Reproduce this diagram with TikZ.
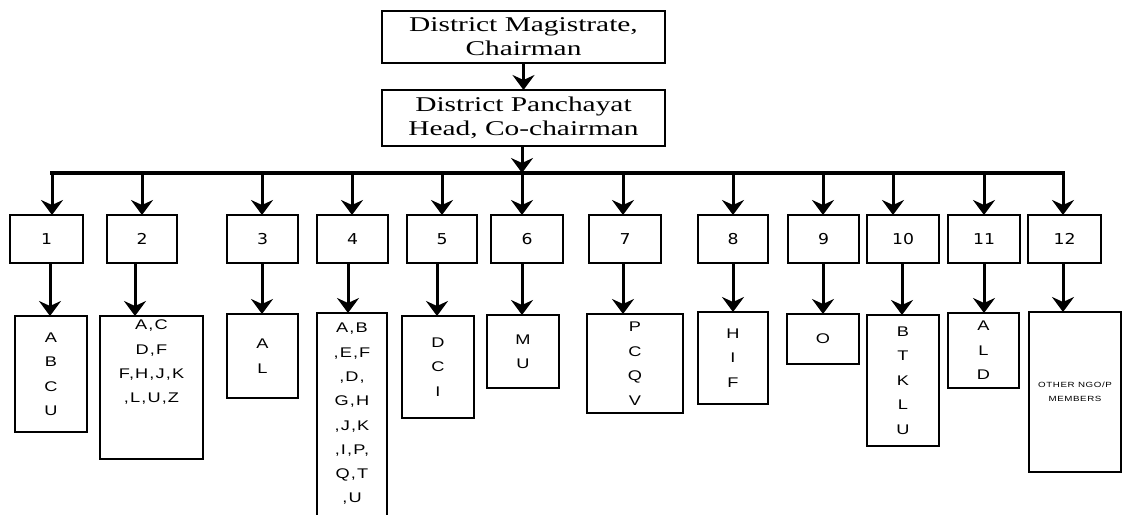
\documentclass[tikz,border=0pt]{standalone}
\usepackage{fontspec}
\usetikzlibrary{arrows.meta}
\newfontfamily\topf[FakeStretch=1.4]{Liberation Serif}
\newfontfamily\numf[FakeStretch=1.15]{DejaVu Sans}
\newfontfamily\letf[FakeStretch=1.3,LetterSpace=8]{Liberation Sans}
\begin{document}
\begin{tikzpicture}[x=1pt,y=-1pt,
 box/.style={draw,line width=2.5pt,rectangle,inner sep=0pt,outer sep=0pt},
 head/.style={box,font=\topf\fontsize{21}{24}\selectfont,align=center,minimum width=283pt},
 num/.style={box,font=\numf\fontsize{15}{18}\selectfont,minimum height=48pt},
 leaf/.style={box,font=\letf\fontsize{14}{24.5}\selectfont,align=center},
 ltext/.style={font=\letf\fontsize{14}{24.3}\selectfont,align=center,inner sep=0pt,anchor=north},
 arr/.style={line width=3pt,-{Stealth[length=15pt,width=22pt,inset=5pt]}},
 bus/.style={line width=3.5pt,line cap=rect}]
\useasboundingbox (0,0) rectangle (1123,514);
\fill[white] (0,0) rectangle (1123,514);
% top
\node[head,minimum height=52pt] (dm) at (523.5,37) {District Magistrate,\\Chairman};
\node[head,minimum height=56pt] (dp) at (523.5,118) {District Panchayat\\Head, Co-chairman};
\draw[arr] (dm.south) -- (dp.north);
\coordinate (bc) at (522,173);
\draw[arr] (dp.south -| bc) -- (bc);
% bus
\coordinate (bl) at (52,173);
\coordinate (br) at (1063,173);
\draw[bus] (bl) -- (br);
% level 1
\foreach \i/\cx/\w/\ax in {1/46.5/73/52, 2/142/70/142, 3/262.5/71/262, 4/352.5/71/352,
  5/442/70/442, 6/527/72/522, 7/625/72/623, 8/733/70/733, 9/823.5/71/823,
  10/903/72/893, 11/984/72/984, 12/1064.5/73/1063}
{
  \node[num,minimum width=\w pt] (n\i) at (\cx,239) {\i};
  \coordinate (t\i) at (\ax,173);
  \draw[arr] (t\i) -- (n\i.north -| t\i);
}
% level 2 boxes
\node[leaf,minimum width=72pt,minimum height=116pt] (c1) at (51,374) {A\\B\\C\\U};
\node[box,minimum width=103pt,minimum height=143pt] (c2) at (151.5,387.5) {};
\node[ltext] (c2t) at (151.5,320) {A,C\\D,F\\F,H,J,K\\,L,U,Z};
\node[leaf,minimum width=71pt,minimum height=84pt] (c3) at (262.5,356) {A\\L};
\node[box,minimum width=70pt,minimum height=207pt] (c4) at (352,416.5) {};
\node[ltext] (c4t) at (352,323) {A,B\\,E,F\\,D,\\G,H\\,J,K\\,I,P,\\Q,T\\,U};
\node[leaf,minimum width=72pt,minimum height=102pt] (c5) at (438,367) {D\\C\\I};
\node[leaf,minimum width=72pt,minimum height=73pt] (c6) at (523,351.5) {M\\U};
\node[leaf,minimum width=96pt,minimum height=99pt] (c7) at (635,363.5) {P\\C\\Q\\V};
\node[leaf,minimum width=70pt,minimum height=92pt] (c8) at (733,358) {H\\I\\F};
\node[leaf,minimum width=72pt,minimum height=50pt] (c9) at (823,339) {O};
\node[leaf,minimum width=72pt,minimum height=131pt] (c10) at (903,380.5) {B\\T\\K\\L\\U};
\node[leaf,minimum width=71pt,minimum height=75pt] (c11) at (983.5,350.5) {A\\L\\D};
\node[box,minimum width=92pt,minimum height=160pt,font=\letf\fontsize{7.5}{14}\selectfont,align=center] (c12) at (1075,392) {OTHER NGO/P\\MEMBERS};
% level 2 arrows
\foreach \i/\ax in {1/50, 2/135, 3/262, 4/348, 5/437, 6/522, 7/623, 8/733, 9/823, 10/902, 11/984, 12/1063}
{
  \coordinate (b\i) at (\ax,263);
  \draw[arr] (n\i.south -| b\i) -- (c\i.north -| b\i);
}
\end{tikzpicture}
\end{document}
